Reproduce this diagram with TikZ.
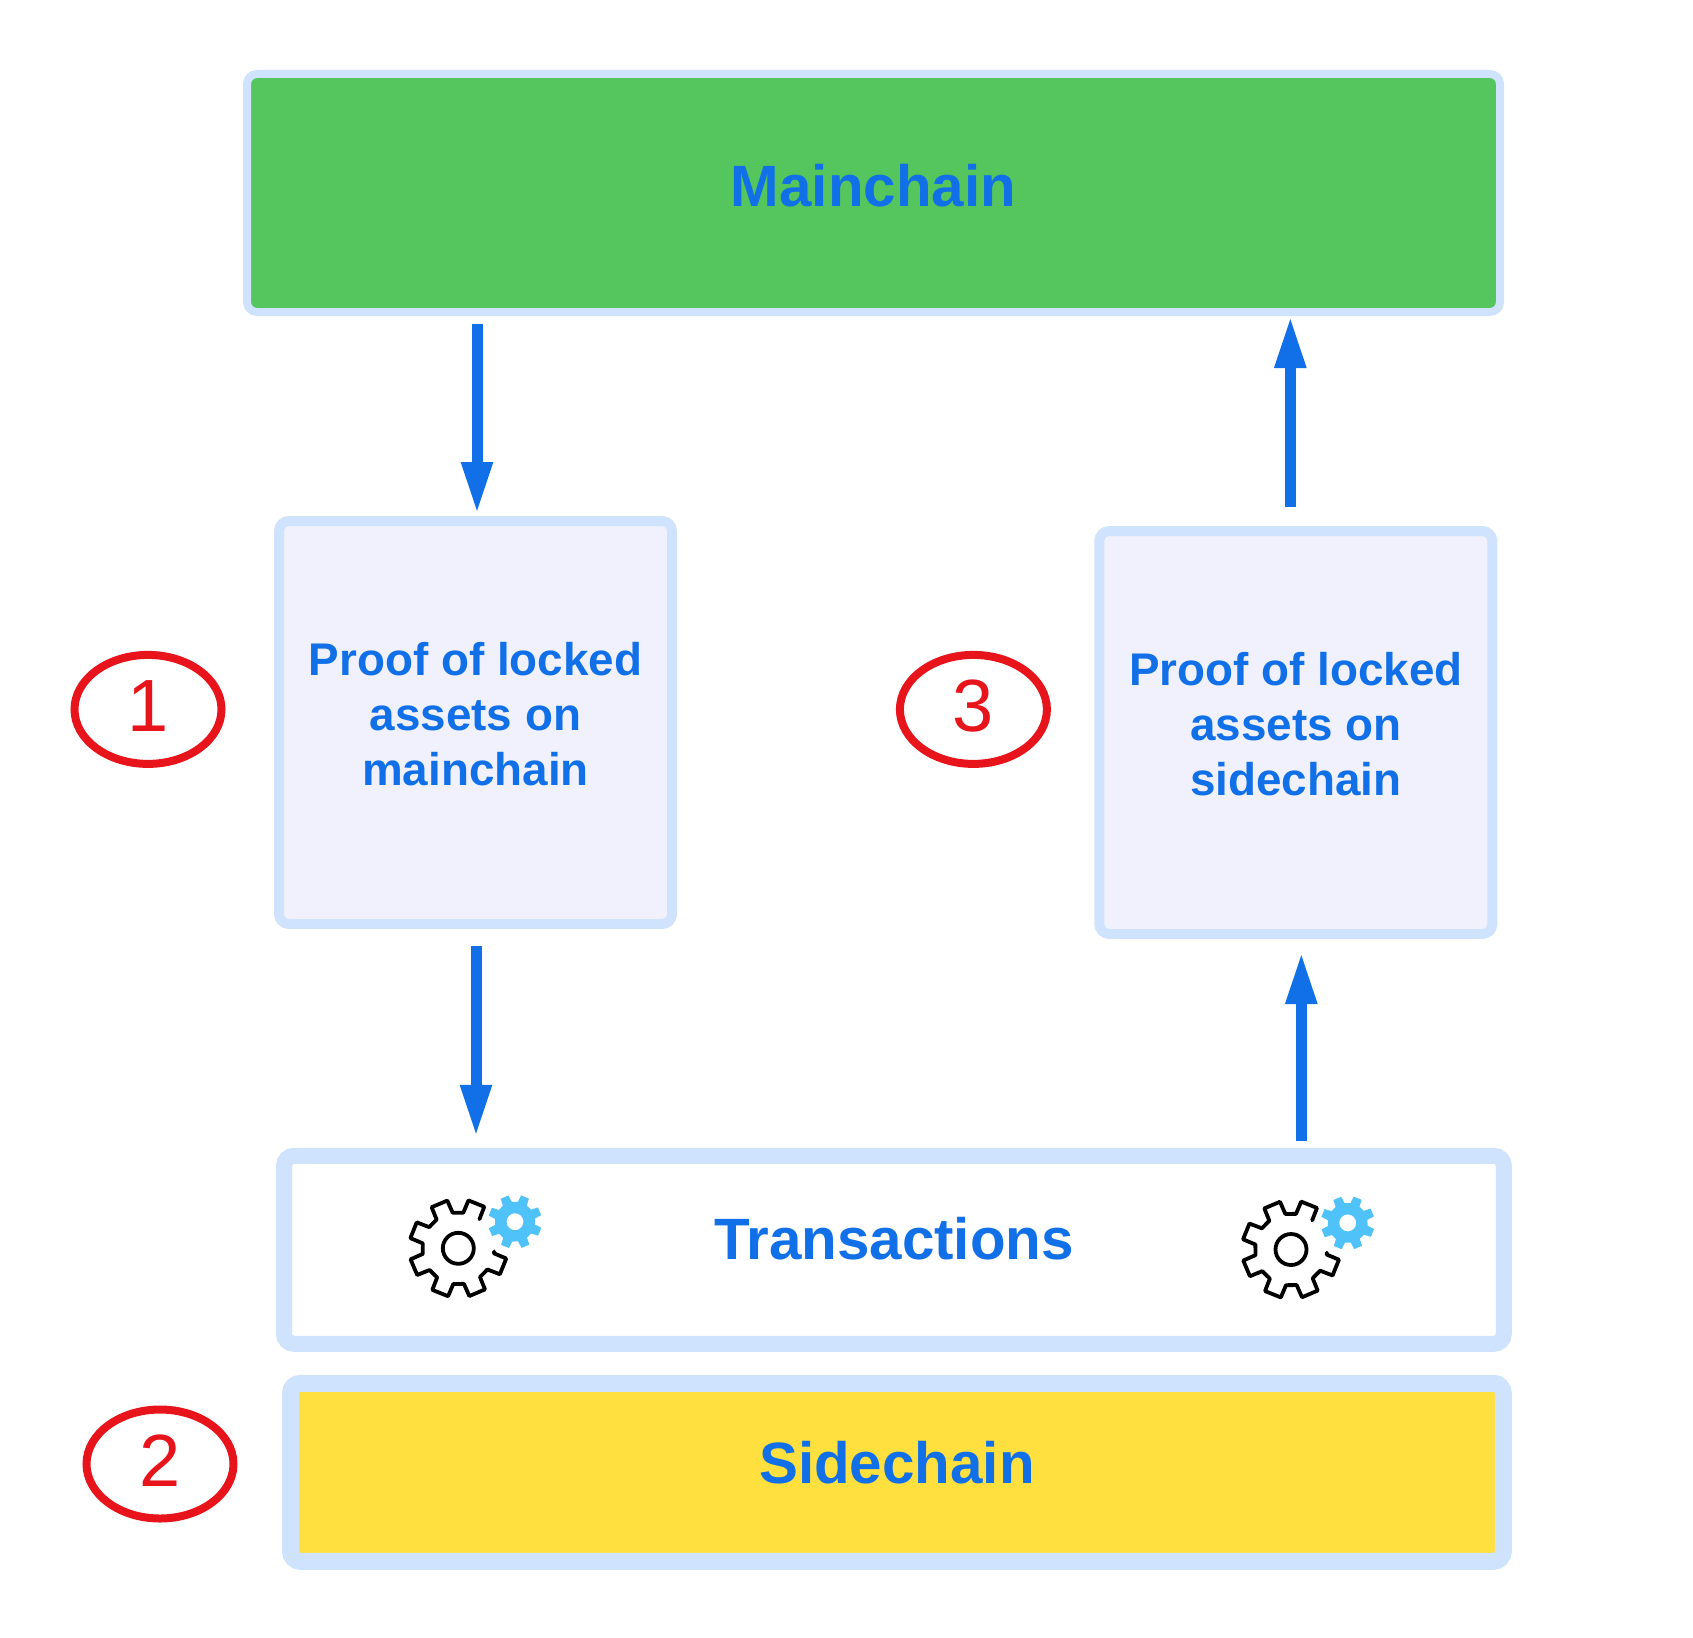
\documentclass[tikz,border=0pt]{standalone}
\usepackage{fontspec}
\setmainfont{Liberation Sans}
\usepackage{xcolor}
\usetikzlibrary{arrows.meta,shapes.geometric}

\definecolor{framecol}{HTML}{CFE3FE}
\definecolor{maincol}{HTML}{55C55D}
\definecolor{proofcol}{HTML}{F0F1FC}
\definecolor{sidecol}{HTML}{FFE03E}
\definecolor{flowcol}{HTML}{1170E8}
\definecolor{markcol}{HTML}{E8141C}
\definecolor{smallgearcol}{HTML}{4FC3F9}

\tikzset{
    chainbox/.style={rectangle,rounded corners=10pt,draw=framecol,text=flowcol,
        font=\bfseries\fontsize{58.3}{70}\selectfont},
    proofbox/.style={chainbox,line width=10pt,fill=proofcol,minimum width=393pt,minimum height=403pt,
        align=center,font=\bfseries\fontsize{45.8}{55}\selectfont,text depth=17pt},
    stepmark/.style={ellipse,draw=markcol,line width=8pt,text=markcol,inner sep=0pt,
        minimum width=147pt,minimum height=109pt,font=\fontsize{74}{80}\selectfont,text depth=7pt},
    flow/.style={color=flowcol,line width=11pt,-{Triangle[length=52pt,width=29pt]}},
    gearpair/.pic={
        % outline gear, open towards the small one
        \draw[black,line width=3.8pt,line cap=round,line join=round] (54:36)
            \foreach \a in {68,113,...,338} {
                -- (\a-14:36) -- (\a-10:49) -- (\a+10:49) -- (\a+14:36)
            } -- (355:36);
        \draw[black,line width=3.8pt] (0,0) circle (15.5);
        \fill[smallgearcol,even odd rule,shift={(56.7,26.6)}] (54:20)
            \foreach \a in {68,113,...,383} {
                -- (\a-14:20) -- (\a-9:27) -- (\a+9:27) -- (\a+14:20)
            } -- cycle (0,0) circle (8.5);
    }
}

\begin{document}
\begin{tikzpicture}[x=1pt,y=1pt]
    \useasboundingbox (0,0) rectangle (1693,-1637);

    \node[chainbox,name=main,line width=8pt,fill=maincol,minimum width=1253pt,minimum height=238pt,text depth=15pt] at (873.5,-193) {Mainchain};

    \node[proofbox,name=proof1,below of=main,node distance=529.5pt,xshift=-398pt] {Proof of locked\\assets on\\mainchain};
    \node[proofbox,name=proof3,below of=main,node distance=539.5pt,xshift=422.3pt] {Proof of locked\\assets on\\sidechain};

    \node[chainbox,name=trans,below of=main,node distance=1056.8pt,xshift=20.4pt,line width=16pt,fill=white,minimum width=1219.8pt,minimum height=188pt,text depth=22pt] {Transactions};
    \node[chainbox,name=side,below of=trans,node distance=222.5pt,xshift=3pt,line width=17pt,fill=sidecol,minimum width=1212.8pt,minimum height=178pt,text depth=19pt] {Sidechain};

    \node[stepmark,name=step1,left of=proof1,node distance=327.5pt,yshift=13.1pt] {1};
    \node[stepmark,name=step3,left of=proof3,node distance=322.4pt,yshift=23.1pt] {3};
    \node[stepmark,name=step2,left of=side,node distance=736.9pt,yshift=8.3pt] {2};

    \pic at ([xshift=-435.6pt,yshift=1.5pt]trans.center) {gearpair};
    \pic at ([xshift=397.1pt,yshift=0.3pt]trans.center) {gearpair};

    \path[flow] ([xshift=1.5pt]proof1.north |- main.south) edge[shorten <=8pt,shorten >=2pt] ([xshift=1.5pt]proof1.north)
                ([xshift=0.5pt]proof1.south) edge[shorten <=17pt,shorten >=11pt] ([xshift=0.5pt]proof1.south |- trans.north)
                ([xshift=-5.5pt]proof3.north) edge[shorten <=19pt,shorten >=0pt] ([xshift=-5.5pt]proof3.north |- main.south)
                ([xshift=5.5pt]proof3.south |- trans.north) edge[shorten <=7pt,shorten >=13pt] ([xshift=5.5pt]proof3.south);
\end{tikzpicture}
\end{document}
